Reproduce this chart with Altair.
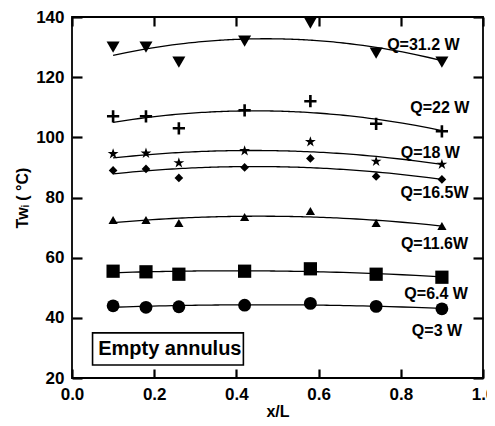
import altair as alt
import pandas as pd

# --- data ---
x_pos = [0.1, 0.18, 0.26, 0.42, 0.58, 0.74, 0.9]
q_31_2 = [130, 130, 125, 132, 138, 128, 125]
q_22 = [107, 107, 103, 109, 112, 104.5, 102]
q_18 = [94.5, 94.7, 91.5, 95.5, 98.5, 92, 91]
q_16_5 = [89, 89.5, 86.5, 90, 93, 87, 86]
q_11_6 = [72.5, 72.5, 71.5, 73.5, 75.5, 71.5, 70.5]
q_6_4 = [55.5, 55.3, 54.5, 55.5, 56.3, 54.5, 53.5]
q_3 = [44, 43.5, 43.7, 44.2, 44.8, 43.8, 43]

series_names = ["31.2", "22", "18", "16.5", "11.6", "6.4", "3"]
series_vals = [q_31_2, q_22, q_18, q_16_5, q_11_6, q_6_4, q_3]

STAR = ("M0,-1L0.225,-0.309L0.951,-0.309L0.363,0.118L0.588,0.809L0,0.382"
        "L-0.588,0.809L-0.363,0.118L-0.951,-0.309L-0.225,-0.309Z")
series_shapes = ["triangle-down", "plus", STAR, "diamond", "triangle-up", "square", "circle"]
series_sizes = [170, 150, 130, 75, 85, 175, 165]

label_text = ["Q=31.2 W", "Q=22 W", "Q=18 W", "Q=16.5W", "Q=11.6W", "Q=6.4 W", "Q=3 W"]
label_x = [0.855, 0.895, 0.872, 0.882, 0.882, 0.886, 0.888]
label_y = [130.7, 109.8, 94.8, 81.5, 64.6, 48.0, 35.7]

x_ticks = [0.0, 0.2, 0.4, 0.6, 0.8, 1.0]
y_ticks = [20, 40, 60, 80, 100, 120, 140]

box_text = "Empty annulus"

W, H = 411, 361
FONT = "Liberation Sans"
TX, TY = 9, 10   # inward tick lengths (px) for x and y axes
TW = 2.2

rows = []
for name, vals, shp, sz in zip(series_names, series_vals, series_shapes, series_sizes):
    for xv, yv in zip(x_pos, vals):
        rows.append({"x": xv, "y": yv, "Q": name, "shape": shp, "size": sz})
df = pd.DataFrame(rows)

labels_df = pd.DataFrame({"text": label_text, "x": label_x, "y": label_y})
box_df = pd.DataFrame({"x": [0.05], "x2": [0.417], "y": [35.0], "y2": [24.3],
                       "tx": [0.238], "ty": [29.5], "text": [box_text]})

xscale = alt.Scale(domain=[0, 1], nice=False, zero=False)
yscale = alt.Scale(domain=[20, 140], nice=False, zero=False)

# main axes: shifted inward so that their ticks point into the plot
xaxis = alt.Axis(values=x_ticks, format=".1f", offset=-TX, tickSize=TX, tickWidth=TW,
                 tickColor="#000000", tickOpacity=1, ticks=True, domain=False, grid=False,
                 labelFontSize=17, labelFontWeight="bold", labelFont=FONT, labelColor="black",
                 labelPadding=8, title="x/L", titleFont=FONT, titleFontSize=16,
                 titleFontWeight="bold", titleColor="black", titlePadding=1,
                 labelFlush=False, labelOverlap=False, zindex=2)
yaxis = alt.Axis(values=y_ticks, format="d", offset=-TY, tickSize=TY, tickWidth=TW,
                 tickColor="#000000", tickOpacity=1, ticks=True, domain=False, grid=False,
                 labelFontSize=17, labelFontWeight="bold", labelFont=FONT, labelColor="black",
                 labelPadding=8, title="Twᵢ ( °C)", titleFont=FONT, titleFontSize=16,
                 titleFontWeight="bold", titleColor="black", titlePadding=5,
                 labelFlush=False, labelOverlap=False, zindex=2)
# mirrored axes: ticks only
xaxis_top = alt.Axis(orient="top", values=x_ticks, offset=-TX, tickSize=TX, tickWidth=TW,
                     tickColor="#000000", tickOpacity=1, ticks=True, domain=False, grid=False,
                     labels=False, title=None, zindex=2)
yaxis_right = alt.Axis(orient="right", values=y_ticks, offset=-TY, tickSize=TY, tickWidth=TW,
                       tickColor="#000000", tickOpacity=1, ticks=True, domain=False, grid=False,
                       labels=False, title=None, zindex=2)

base = alt.Chart(df)

filled_pts = base.transform_filter(alt.datum.shape != "plus").mark_point(
    filled=True, color="black", opacity=1
).encode(
    x=alt.X("x:Q", scale=xscale, axis=xaxis),
    y=alt.Y("y:Q", scale=yscale, axis=yaxis),
    shape=alt.Shape("shape:N", scale=None, legend=None),
    size=alt.Size("size:Q", scale=None, legend=None),
)

plus_pts = base.transform_filter(alt.datum.shape == "plus").mark_point(
    shape="M-1,0L1,0M0,-1L0,1", filled=False, color="black", strokeWidth=2.6, size=150, opacity=1
).encode(
    x=alt.X("x:Q", scale=xscale, axis=xaxis_top),
    y=alt.Y("y:Q", scale=yscale, axis=yaxis_right),
)

fits = base.transform_regression("x", "y", groupby=["Q"], method="poly", order=2).mark_line(
    color="black", strokeWidth=1.3
).encode(
    x=alt.X("x:Q", axis=None), y=alt.Y("y:Q", axis=None), detail="Q:N"
)

labels = alt.Chart(labels_df).mark_text(
    font=FONT, fontSize=16, fontWeight="bold", color="black", align="center", baseline="middle"
).encode(x=alt.X("x:Q", axis=None), y=alt.Y("y:Q", axis=None), text="text:N")

box = alt.Chart(box_df).mark_rect(fill="white", stroke="black", strokeWidth=1.6).encode(
    x=alt.X("x:Q", axis=None), x2="x2:Q", y=alt.Y("y:Q", axis=None), y2="y2:Q"
)
box_label = alt.Chart(box_df).mark_text(
    font=FONT, fontSize=20, fontWeight="bold", color="black", align="center", baseline="middle"
).encode(x=alt.X("tx:Q", axis=None), y=alt.Y("ty:Q", axis=None), text="text:N")

chart = alt.layer(
    fits, filled_pts, plus_pts, labels, box, box_label
).resolve_axis(
    x="independent", y="independent"
).properties(
    width=W, height=H,
    autosize=alt.AutoSizeParams(type="none"),
    padding={"left": 64, "top": 9, "right": 4, "bottom": 40},
    background="white",
).configure_view(stroke="black", strokeWidth=1.8)

chart.save("out.html", embed_options={"renderer": "svg", "actions": False})
